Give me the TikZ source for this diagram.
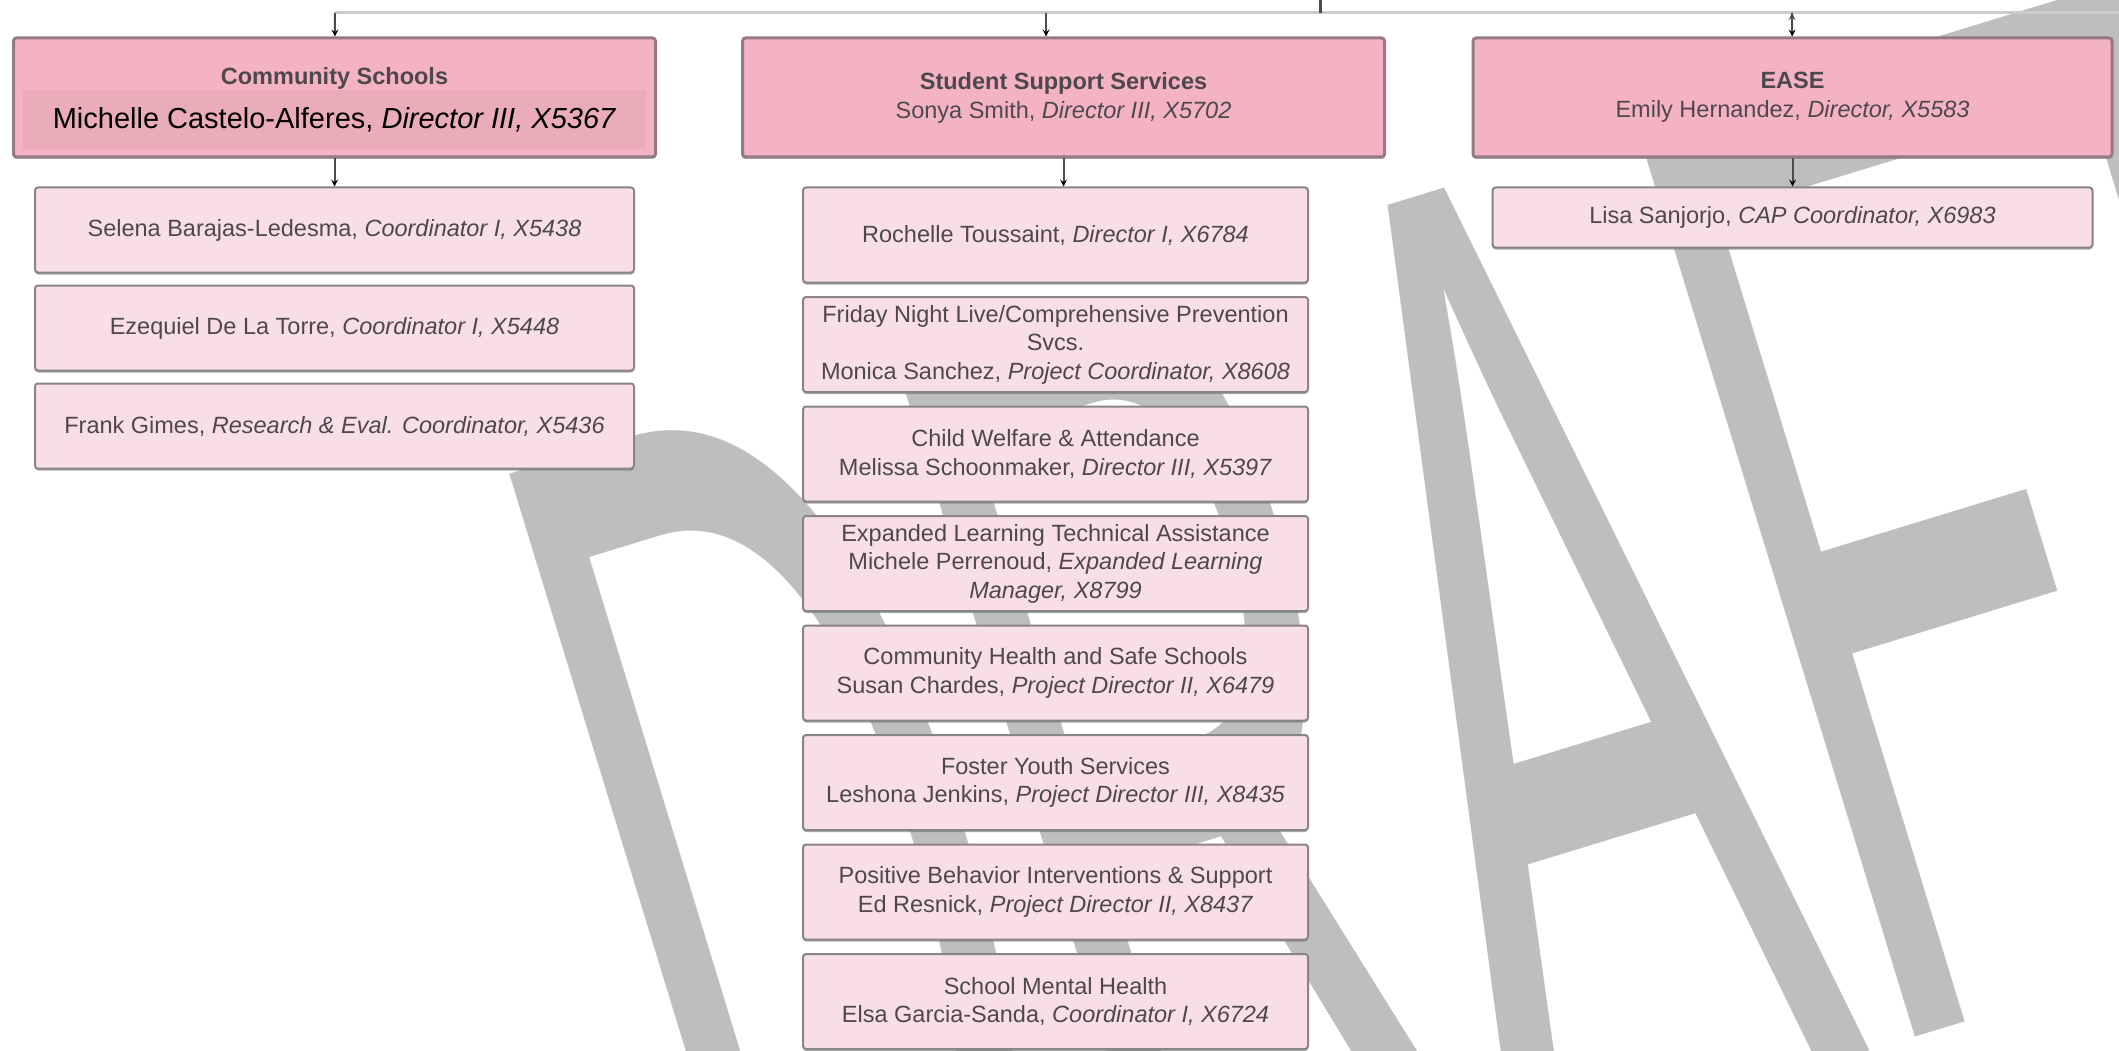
\documentclass[tikz,border=0pt]{standalone}
\usepackage{fontspec}
\setmainfont{Liberation Sans}
\usetikzlibrary{positioning,shadows}

\definecolor{headpink}{RGB}{244,178,197}
\definecolor{headline}{RGB}{150,122,131}
\definecolor{subpink}{RGB}{248,223,230}
\definecolor{subline}{RGB}{138,132,135}
\definecolor{hilite}{RGB}{234,172,184}
\definecolor{wmgray}{RGB}{190,190,190}
\definecolor{txtgray}{RGB}{78,72,75}
\definecolor{bargray}{RGB}{204,204,204}

\tikzset{
  head/.style={draw=headline, line width=3pt, fill=headpink, rounded corners=3pt,
    minimum width=642pt, minimum height=119pt, inner sep=0pt, align=center,
    text=txtgray, font=\fontsize{23.5}{29}\selectfont,
    drop shadow={shadow xshift=0pt, shadow yshift=-2pt, fill=black!50, opacity=0.6}},
  headtitle/.style={inner sep=0pt, text=txtgray, font=\fontsize{23.5}{29}\selectfont\bfseries},
  director/.style={fill=hilite, minimum width=623pt, minimum height=59pt, inner sep=0pt,
    text=black, font=\fontsize{29}{34}\selectfont},
  unit/.style={draw=subline, line width=2pt, fill=subpink, rounded corners=3pt,
    inner sep=0pt, align=center, text=txtgray, font=\fontsize{23.5}{28.5}\selectfont,
    drop shadow={shadow xshift=0pt, shadow yshift=-2pt, fill=black!55, opacity=0.6}},
  csunit/.style={unit, minimum width=599pt, minimum height=85pt},
  sssunit/.style={unit, minimum width=505pt, minimum height=95pt},
  easeunit/.style={unit, minimum width=600pt, minimum height=60pt},
  bar/.style={draw=bargray, line width=3pt},
  link/.style={draw=black!70, line width=2pt, ->, >=stealth},
  wmark/.style={anchor=base west, inner sep=0pt, outer sep=0pt, text=wmgray,
    font=\fontsize{1380}{1380}\selectfont, rotate=17, xscale=0.405}
}

\begin{document}
\begin{tikzpicture}[x=1pt, y=-1pt]
  \useasboundingbox (0,0) rectangle (2119,1051);
  \clip (0,0) rectangle (2119,1051);
  \fill[white] (0,0) rectangle (2119,1051);

  \node[wmark] (draft) at (743,1395) {DRAFT};

  \coordinate (top) at (1320,0);
  \coordinate (bar_top) at (1320,13);
  \coordinate (bar_l) at (335,13);
  \coordinate (bar_sss) at (1046,13);
  \coordinate (bar_ease) at (1792,13);
  \coordinate (bar_r) at (2119,13);

  \node[head] (cs) at (334.5,97.5) {};
  \node[headtitle] (cs_title) at (334.5,78) {Community Schools};
  \node[director] (cs_dir) at (334.5,119.5) {Michelle Castelo-Alferes, \textit{Director III, X5367}};
  \node[head] (sss) at (1063.5,97.5) {\textbf{Student Support Services}\\Sonya Smith, \textit{Director III, X5702}};
  \node[head, minimum width=639pt] (ease) at (1792.5,97.5) {\textbf{EASE}\\Emily Hernandez, \textit{Director, X5583}};

  \node[csunit] (cs_1) [below=28pt of cs] {Selena Barajas-Ledesma, \textit{Coordinator I, X5438}};
  \node[csunit] (cs_2) [below=11pt of cs_1] {Ezequiel De La Torre, \textit{Coordinator I, X5448}};
  \node[csunit] (cs_3) [below=11pt of cs_2] {Frank Gimes, \textit{Research \& Eval. Coordinator, X5436}};

  \node[sssunit] (sss_1) [below=28pt of sss, xshift=-8pt] {Rochelle Toussaint, \textit{Director I, X6784}};
  \node[sssunit] (sss_2) [below=12.5pt of sss_1] {Friday Night Live/Comprehensive Prevention\\Svcs.\\Monica Sanchez, \textit{Project Coordinator, X8608}};
  \node[sssunit] (sss_3) [below=12.5pt of sss_2] {Child Welfare \& Attendance\\Melissa Schoonmaker, \textit{Director III, X5397}};
  \node[sssunit] (sss_4) [below=12.5pt of sss_3] {Expanded Learning Technical Assistance\\Michele Perrenoud, \textit{Expanded Learning}\\\textit{Manager, X8799}};
  \node[sssunit] (sss_5) [below=12.5pt of sss_4] {Community Health and Safe Schools\\Susan Chardes, \textit{Project Director II, X6479}};
  \node[sssunit] (sss_6) [below=12.5pt of sss_5] {Foster Youth Services\\Leshona Jenkins, \textit{Project Director III, X8435}};
  \node[sssunit] (sss_7) [below=12.5pt of sss_6] {Positive Behavior Interventions \& Support\\Ed Resnick, \textit{Project Director II, X8437}};
  \node[sssunit] (sss_8) [below=12.5pt of sss_7] {School Mental Health\\Elsa Garcia-Sanda, \textit{Coordinator I, X6724}};

  \node[easeunit] (ease_1) [below=28pt of ease] {Lisa Sanjorjo, \textit{CAP Coordinator, X6983}};

  \draw[bar] (bar_l) -- (bar_r);
  \draw[black!70, line width=3pt] (top) -- (bar_top);
  \path[link]
    (bar_l) edge (cs)
    (bar_sss) edge (bar_sss |- sss.north)
    (bar_ease) edge (ease)
    (cs) edge (cs_1)
    (sss) edge (sss.south |- sss_1.north)
    (ease) edge (ease_1);
\end{tikzpicture}
\end{document}
